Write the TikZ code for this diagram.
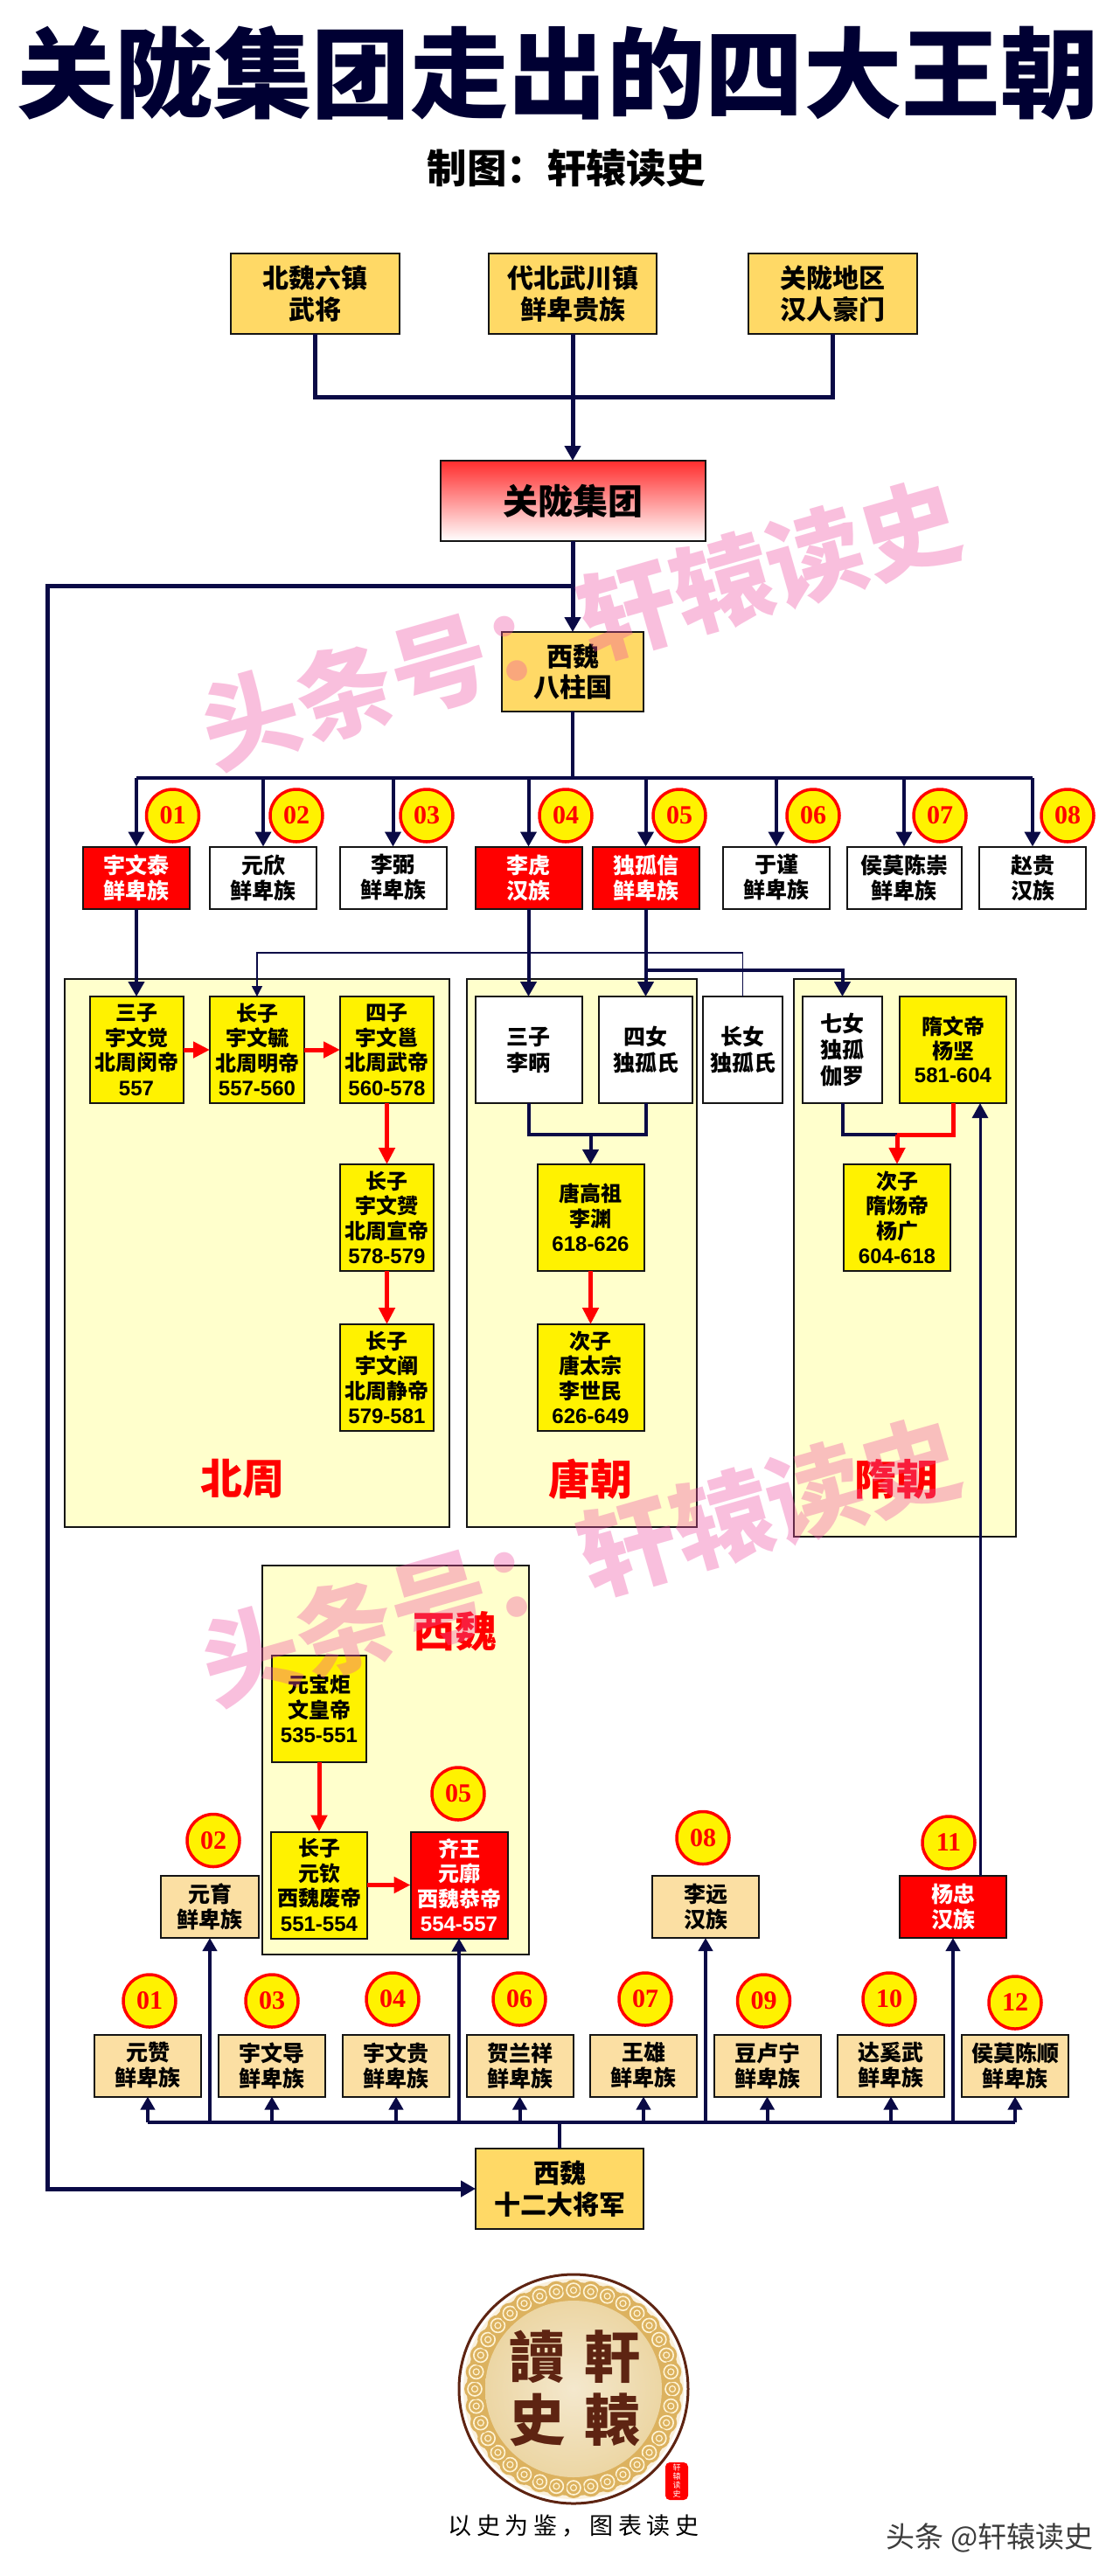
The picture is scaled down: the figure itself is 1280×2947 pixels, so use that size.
\documentclass[tikz,border=0pt]{standalone}
\usepackage{fontspec}
\usetikzlibrary{arrows.meta,calc}
\setmainfont{Noto Sans CJK SC}
\newfontfamily\titlef{Noto Sans CJK SC Black}
\newfontfamily\tcf{Noto Sans CJK TC}
\newfontfamily\dgf{Liberation Sans}
\newfontfamily\snf{Liberation Serif}
\newfontfamily\slf[LetterSpace=20]{Noto Sans CJK SC}
\newcommand\yr[1]{{\dgf\bfseries #1}}
\definecolor{navy}{HTML}{0A0A46}
\definecolor{ink}{HTML}{141414}
\definecolor{gold}{HTML}{FFD966}
\definecolor{tanc}{HTML}{FBDFA3}
\definecolor{panelc}{HTML}{FFFFCC}
\definecolor{wm}{RGB}{240,82,164}
\definecolor{brownc}{HTML}{5E2412}
\definecolor{cloudc}{HTML}{DCB25F}
\tikzset{
  x=1pt,y=-1pt,
  sz/.style 2 args={minimum width=#1pt,minimum height=#2pt},
  basebox/.style={draw=ink,line width=2pt,inner sep=0pt,outer sep=0pt,align=center,text=black,font=\fontsize{25}{29}\selectfont\bfseries},
  goldbox/.style={basebox,fill=gold,font=\fontsize{30}{35.6}\selectfont\bfseries},
  tanbox/.style={basebox,fill=tanc},
  whitebox/.style={basebox,fill=white},
  redbox/.style={basebox,fill=red,text=white},
  emp/.style={basebox,fill=yellow,font=\fontsize{24}{28.5}\selectfont\bfseries},
  emprd/.style={emp,fill=red,text=white},
  panelbox/.style={draw=ink,line width=2pt,fill=panelc,inner sep=0pt,outer sep=0pt},
  ptitle/.style={text=red,inner sep=0pt,font=\fontsize{48}{50}\titlef},
  badge/.style={circle,draw=red,line width=3.5pt,fill=yellow,text=red,minimum size=60pt,inner sep=0pt,outer sep=0pt,font=\fontsize{30}{32}\snf\bfseries},
  nav/.style={draw=navy,line width=4pt},
  navt/.style={draw=navy,line width=5pt},
  thinln/.style={draw=navy,line width=1.5pt},
  rl/.style={draw=red,line width=5pt},
  tipn/.style={-{Triangle[length=17pt,width=18pt]}},
  tips/.style={-{Triangle[length=15pt,width=16pt]}},
  tipt/.style={-{Triangle[length=12pt,width=12pt]}},
  tipr/.style={-{Triangle[length=19pt,width=18pt]}},
  wmark/.style={text=wm,text opacity=.365,rotate=16,inner sep=0pt,font=\fontsize{112}{114}\selectfont\bfseries},
}
\begin{document}
\begin{tikzpicture}
\useasboundingbox (0,0) rectangle (1280,2947);
\fill[white] (0,0) rectangle (1280,2947);

% title
\node[inner sep=0pt,text={rgb,255:red,0;green,0;blue,51},font=\fontsize{112.5}{116}\titlef] (title) at (638,83) {关陇集团走出的四大王朝};
\node[inner sep=0pt,text=black,font=\fontsize{45.5}{48}\selectfont\bfseries] (sub) at (648,192) {制图：轩辕读史};

% top boxes
\node[goldbox,sz={193}{92}] (t1) at (360.5,336) {北魏六镇\\武将};
\node[goldbox,sz={192}{92}] (t2) at (655,336) {代北武川镇\\鲜卑贵族};
\node[goldbox,sz={193}{92}] (t3) at (952,336) {关陇地区\\汉人豪门};
\node[basebox,sz={303}{92},top color={rgb,255:red,255;green,45;blue,45},bottom color=white,font=\fontsize{40}{44}\selectfont\bfseries] (gl) at (655,573) {关陇集团};
\node[goldbox,sz={162}{91}] (bz) at (655,768.5) {西魏\\八柱国};

% eight pillars
\node[redbox,sz={122}{71}] (p1) at (156,1004) {宇文泰\\鲜卑族};
\node[whitebox,sz={122}{71}] (p2) at (301,1004) {元欣\\鲜卑族};
\node[whitebox,sz={122}{71}] (p3) at (449.5,1004) {李弼\\鲜卑族};
\node[redbox,sz={122}{71}] (p4) at (604.5,1004) {李虎\\汉族};
\node[redbox,sz={122}{71}] (p5) at (738.5,1004) {独孤信\\鲜卑族};
\node[whitebox,sz={122}{71}] (p6) at (888,1004) {于谨\\鲜卑族};
\node[whitebox,sz={131}{71}] (p7) at (1034,1004) {侯莫陈崇\\鲜卑族};
\node[whitebox,sz={122}{71}] (p8) at (1181,1004) {赵贵\\汉族};

\node[badge] (a1) at (197.5,933) {01};
\node[badge] (a2) at (339,933) {02};
\node[badge] (a3) at (488,933) {03};
\node[badge] (a4) at (647,933) {04};
\node[badge] (a5) at (777,933) {05};
\node[badge] (a6) at (930,933) {06};
\node[badge] (a7) at (1075,933) {07};
\node[badge] (a8) at (1221,933) {08};

% dynasty panels
\node[panelbox,sz={440}{627}] (pz) at (293.5,1433.5) {};
\node[panelbox,sz={263}{627}] (pt) at (665.5,1433.5) {};
\node[panelbox,sz={254}{638}] (ps) at (1035,1439) {};
\node[panelbox,sz={305}{445}] (pw) at (452.5,2013.5) {};
\node[ptitle] (tz) at (277,1692) {北周};
\node[ptitle] (tt) at (675,1692) {唐朝};
\node[ptitle] (ts) at (1025,1692) {隋朝};
\node[ptitle] (tw) at (520,1866) {西魏};

% Northern Zhou
\node[emp,sz={107}{122}] (z1) at (156,1201) {三子\\宇文觉\\北周闵帝\\\yr{557}};
\node[emp,sz={108}{122}] (z2) at (294,1201) {长子\\宇文毓\\北周明帝\\\yr{557-560}};
\node[emp,sz={107}{122}] (z3) at (442.5,1201) {四子\\宇文邕\\北周武帝\\\yr{560-578}};
\node[emp,sz={107}{122}] (z4) at (442.5,1393) {长子\\宇文赟\\北周宣帝\\\yr{578-579}};
\node[emp,sz={107}{122}] (z5) at (442.5,1576) {长子\\宇文阐\\北周静帝\\\yr{579-581}};
% Tang
\node[whitebox,sz={122}{122},font=\fontsize{25}{30}\selectfont\bfseries] (lb) at (604.5,1201) {三子\\李昞};
\node[whitebox,sz={107}{122},font=\fontsize{25}{30}\selectfont\bfseries] (sn) at (738.5,1201) {四女\\独孤氏};
\node[whitebox,sz={91}{122},font=\fontsize{25}{30}\selectfont\bfseries] (cn) at (849.5,1201) {长女\\独孤氏};
\node[emp,sz={122}{122}] (tg) at (675.5,1393) {唐高祖\\李渊\\\yr{618-626}};
\node[emp,sz={122}{122}] (tz2) at (675.5,1576) {次子\\唐太宗\\李世民\\\yr{626-649}};
% Sui
\node[whitebox,sz={91}{122},font=\fontsize{25}{30}\selectfont\bfseries] (qn) at (963.5,1201) {七女\\独孤\\伽罗};
\node[emp,sz={122}{122},font=\fontsize{24}{27.5}\selectfont\bfseries] (sw) at (1090,1201) {隋文帝\\杨坚\\\yr{581-604}};
\node[emp,sz={122}{122}] (yg) at (1026,1393) {次子\\隋炀帝\\杨广\\\yr{604-618}};
% Western Wei
\node[emp,sz={108}{122}] (w1) at (365,1955) {元宝炬\\文皇帝\\\yr{535-551}};
\node[emp,sz={110}{122}] (w2) at (365,2156.5) {长子\\元钦\\西魏废帝\\\yr{551-554}};
\node[emprd,sz={111}{122}] (w3) at (525,2156.5) {齐王\\元廓\\西魏恭帝\\\yr{554-557}};

% generals
\node[tanbox,sz={112}{71}] (g2) at (240,2181.5) {元育\\鲜卑族};
\node[tanbox,sz={122}{71}] (g8) at (807,2181.5) {李远\\汉族};
\node[redbox,sz={122}{71}] (g11) at (1090,2181.5) {杨忠\\汉族};
\node[tanbox,sz={122}{71}] (g1) at (169,2363) {元赞\\鲜卑族};
\node[tanbox,sz={122}{71}] (g3) at (311,2363) {宇文导\\鲜卑族};
\node[tanbox,sz={122}{71}] (g4) at (453,2363) {宇文贵\\鲜卑族};
\node[tanbox,sz={122}{71}] (g6) at (594.5,2363) {贺兰祥\\鲜卑族};
\node[tanbox,sz={122}{71}] (g7) at (736,2363) {王雄\\鲜卑族};
\node[tanbox,sz={122}{71}] (g9) at (877.5,2363) {豆卢宁\\鲜卑族};
\node[tanbox,sz={122}{71}] (g10) at (1019,2363) {达奚武\\鲜卑族};
\node[tanbox,sz={122}{71}] (g12) at (1161,2363) {侯莫陈顺\\鲜卑族};
\node[goldbox,sz={192}{92}] (j12) at (640,2504) {西魏\\十二大将军};

\node[badge] (c2) at (244,2105.5) {02};
\node[badge] (c5) at (524,2052) {05};
\node[badge] (c8) at (804,2102.5) {08};
\node[badge] (c11) at (1085,2108) {11};
\node[badge] (c1) at (171,2289) {01};
\node[badge] (c3) at (311,2289) {03};
\node[badge] (c4) at (449,2287) {04};
\node[badge] (c6) at (594,2287) {06};
\node[badge] (c7) at (738,2287) {07};
\node[badge] (c9) at (873.5,2289) {09};
\node[badge] (c10) at (1017,2287) {10};
\node[badge] (c12) at (1161,2291) {12};

% junction coordinates
\coordinate (jtop) at (655,454);
\coordinate (jleft) at (655,670);
\coordinate (lx) at (54,670);
\coordinate (bus8) at (655,890);
\coordinate (thinb) at (600,1090);
\coordinate (jb) at (738.5,1110);
\coordinate (jt) at (675.5,1298);
\coordinate (js) at (1026,1298);
\coordinate (yzx) at (1121,1500);
\coordinate (bus12) at (640,2428);

% connectors: top
\draw[navt] (t1.south) |- (jtop);
\draw[navt] (t3.south) |- (jtop);
\draw[navt,tipn] (t2.south) -- (gl.north);
\draw[navt,tipn] (gl.south) -- (bz.north);
\draw[navt,tipn] (jleft) -- (lx) -- (lx |- j12.west) -- (j12.west);
\draw[nav] (bz.south) -- (bus8);
\draw[nav] (p1.north |- bus8) -- (p8.north |- bus8);
\foreach \p in {p1,p2,p3,p4,p5,p6,p7,p8} {\draw[nav,tipn] (\p.north |- bus8) -- (\p.north);}
% pillars to dynasties
\draw[nav,tipn] (p1.south) -- (z1.north);
\draw[nav,tipn] (p4.south) -- (lb.north);
\draw[nav,tipn] (p5.south) -- (sn.north);
\draw[nav,tipn] (jb) -| (qn.north);
\draw[thinln,tipt] (cn.north) -- (cn.north |- thinb) -| (z2.north);
% red succession
\draw[rl,tipr] (z1.east) -- (z2.west);
\draw[rl,tipr] (z2.east) -- (z3.west);
\draw[rl,tipr] (z3.south) -- (z4.north);
\draw[rl,tipr] (z4.south) -- (z5.north);
\draw[rl,tipr] (tg.south) -- (tz2.north);
\draw[nav] (lb.south) |- (jt);
\draw[nav] (sn.south) |- (jt);
\draw[nav,tipn] (jt) -- (tg.north);
\draw[nav] (qn.south) |- (js);
\draw[rl] (sw.south) |- (js);
\draw[rl,tipr] (js) -- (yg.north);
\draw[rl,tipr] (w1.south) -- (w2.north);
\draw[rl,tipr] (w2.east) -- (w3.west);
\draw[draw=navy,line width=3pt,tipn] (yzx |- g11.north) -- (yzx |- sw.south);
% bottom bus
\draw[nav] (j12.north) -- (bus12);
\draw[nav] (g1.south |- bus12) -- (g12.south |- bus12);
\foreach \g in {g1,g3,g4,g6,g7,g9,g10,g12,g2,w3,g8,g11} {\draw[nav,tips] (\g.south |- bus12) -- (\g.south);}

% logo
\begin{scope}[shift={(656,2733)}]
  \coordinate (lc) at (0,0);
  \draw[draw=brownc,line width=3pt,fill=white] (lc) circle (131pt);
  \fill[fill={rgb,255:red,250;green,240;blue,220}] (lc) circle (126pt);
  \fill[cloudc] (lc) circle (122pt);
  \foreach \a in {0,10,...,350} {
    \fill[cloudc] (\a:113) circle (12pt);
    \draw[draw={rgb,255:red,255;green,244;blue,214},line width=1.6pt] (\a:113) circle (8pt);
    \draw[draw={rgb,255:red,255;green,244;blue,214},line width=1.2pt] (\a:113) circle (3.5pt);
  }
  \shade[inner color={rgb,255:red,244;green,232;blue,205},outer color={rgb,255:red,236;green,214;blue,164}] (lc) circle (101pt);
\end{scope}
\node[inner sep=0pt,text=brownc,font=\fontsize{64}{66}\tcf\bfseries] (l1) at (614,2696) {讀};
\node[inner sep=0pt,text=brownc,font=\fontsize{64}{66}\tcf\bfseries] (l2) at (700,2696) {軒};
\node[inner sep=0pt,text=brownc,font=\fontsize{64}{66}\tcf\bfseries] (l3) at (614,2768) {史};
\node[inner sep=0pt,text=brownc,font=\fontsize{64}{66}\tcf\bfseries] (l4) at (700,2768) {轅};
\node[fill=red,rounded corners=5pt,sz={26}{43},inner sep=0pt,align=center,text=white,font=\fontsize{9}{10}\selectfont] (seal) at (774,2838.5) {轩\\辕\\读\\史};
\node[inner sep=0pt,text=black,font=\fontsize{27}{30}\slf] (slogan) at (656,2890) {以史为鉴，图表读史};
\node[inner sep=0pt,text={rgb,255:red,60;green,60;blue,60},font=\fontsize{33}{35}\selectfont] (toutiao) at (1132,2903) {头条 @轩辕读史};

% watermarks
\node[wmark] (wm1) at (664,714) {头条号：轩辕读史};
\node[wmark] (wm2) at (664,1785) {头条号：轩辕读史};
\end{tikzpicture}
\end{document}
